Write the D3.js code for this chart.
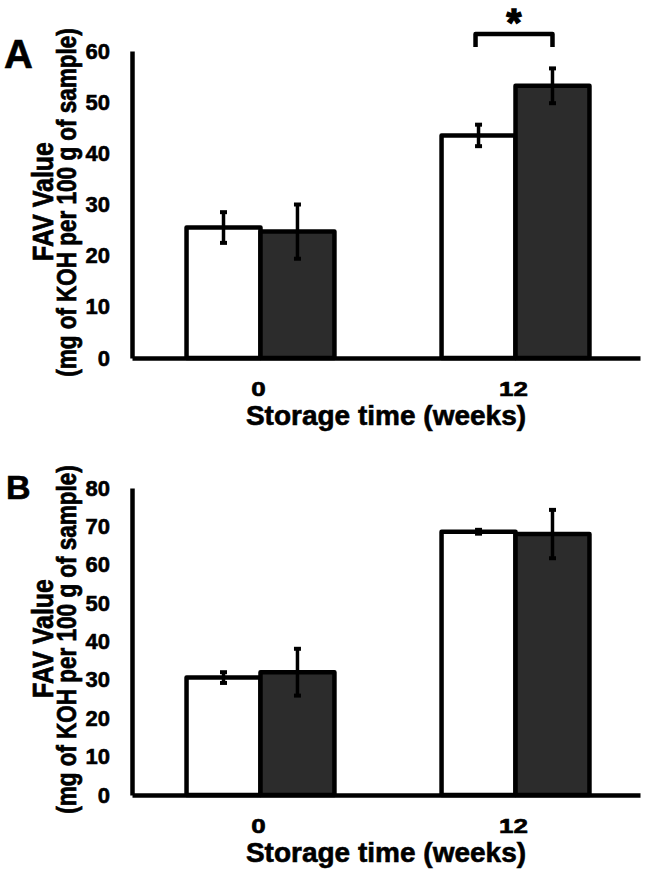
<!DOCTYPE html>
<html>
<head>
<meta charset="utf-8">
<script src="https://cdn.jsdelivr.net/npm/d3@7"></script>
<style>
  html, body { margin: 0; padding: 0; background: #fff; }
  svg { display: block; }
  text { font-family: "Liberation Sans", Arial, sans-serif; font-weight: bold; fill: #000; stroke: #000; stroke-width: 0.6px; }
</style>
</head>
<body>
<svg id="chart" width="645" height="874"></svg>
<script>
// ---- Data ----
const categories = ["0", "12"];
const seriesKeys = ["white", "dark"];

const panelA_white = [25.5, 43.5];
const panelA_dark = [24.7, 53.2];
const panelA_whiteErr = [3.0, 2.1];
const panelA_darkErr = [5.3, 3.4];

const panelB_white = [30.6, 68.6];
const panelB_dark = [32.0, 68.0];
const panelB_whiteErr = [1.4, 0.5];
const panelB_darkErr = [6.1, 6.3];

const yTicksA = [0, 10, 20, 30, 40, 50, 60];
const yTicksB = [0, 10, 20, 30, 40, 50, 60, 70, 80];

const panelLabels = ["A", "B"];
const xTitle = "Storage time (weeks)";
const yTitle = "FAV Value";
const ySubTitle = "(mg of KOH per 100 g of sample)";

// significance bracket (panel A, group "12"), in data units
const sigA = { group: "12", level: 63.3, legEnd: 60.8, label: "*" };

// ---- Drawing ----
const svg = d3.select("#chart");
const fills = { white: "#ffffff", dark: "#2c2c2c" };

function drawPanel(cfg) {
  const g = svg.append("g");
  const left = 132, right = 640;
  const x0 = d3.scaleBand().domain(categories).range([left, right])
    .paddingInner(0.42).paddingOuter(0.206);
  const x1 = d3.scaleBand().domain(seriesKeys).range([0, x0.bandwidth()]).padding(0);
  const y = d3.scaleLinear().domain([0, cfg.yMax]).range([cfg.bottom, cfg.top]);

  const rows = [];
  categories.forEach((c, i) => {
    rows.push({ cat: c, key: "white", v: cfg.white[i], e: cfg.whiteErr[i] });
    rows.push({ cat: c, key: "dark", v: cfg.dark[i], e: cfg.darkErr[i] });
  });

  // bars
  g.selectAll("rect.bar").data(rows).join("rect")
    .attr("class", "bar")
    .attr("x", d => x0(d.cat) + x1(d.key) + 2)
    .attr("width", x1.bandwidth())
    .attr("y", d => y(d.v))
    .attr("height", d => y(0) - y(d.v))
    .attr("fill", d => fills[d.key])
    .attr("stroke", "#000")
    .attr("stroke-width", 4.5)
    .attr("stroke-linejoin", "round");

  // error bars
  const cx = d => x0(d.cat) + x1(d.key) + 2 + x1.bandwidth() / 2;
  g.selectAll("line.err").data(rows).join("line")
    .attr("class", "err")
    .attr("x1", cx).attr("x2", cx)
    .attr("y1", d => y(d.v + d.e)).attr("y2", d => y(d.v - d.e))
    .attr("stroke", "#000").attr("stroke-width", 3.5);
  ["hi", "lo"].forEach(side => {
    g.selectAll("line.cap-" + side).data(rows).join("line")
      .attr("class", "cap-" + side)
      .attr("x1", d => cx(d) - 3.5).attr("x2", d => cx(d) + 3.5)
      .attr("y1", d => y(side === "hi" ? d.v + d.e : d.v - d.e))
      .attr("y2", d => y(side === "hi" ? d.v + d.e : d.v - d.e))
      .attr("stroke", "#000").attr("stroke-width", 4);
  });

  // y axis
  const yAxis = g.append("g")
    .attr("transform", `translate(${left},0)`)
    .call(d3.axisLeft(y).tickValues(cfg.yTicks).tickSize(0).tickSizeOuter(0).tickPadding(22));
  yAxis.select(".domain").attr("stroke", "#000").attr("stroke-width", 4.5);
  yAxis.selectAll("text").style("font-size", "22px").attr("font-family", null);

  // x axis
  const xAxis = g.append("g")
    .attr("transform", `translate(0,${cfg.bottom})`)
    .call(d3.axisBottom(x0).tickSize(0).tickSizeOuter(0).tickPadding(24));
  xAxis.select(".domain").attr("stroke", "#000").attr("stroke-width", 4.5);
  xAxis.selectAll("text").style("font-size", "20px").attr("font-family", null)
    .attr("transform", "scale(1.3,1)");

  // x title
  g.append("text")
    .attr("x", (left + right) / 2)
    .attr("y", cfg.bottom + 67)
    .attr("text-anchor", "middle")
    .style("font-size", "28px")
    .text(xTitle);

  // y titles
  const midY = (cfg.top + cfg.bottom) / 2;
  g.append("text")
    .attr("transform", `translate(53,${midY - 3}) scale(1.2,1) rotate(-90)`)
    .attr("text-anchor", "middle")
    .style("font-size", "25px")
    .text(yTitle);
  g.append("text")
    .attr("transform", `translate(76,${midY - 2}) scale(1.2,1) rotate(-90)`)
    .attr("text-anchor", "middle")
    .style("font-size", "22.5px")
    .text(ySubTitle);

  // panel letter
  g.append("text")
    .attr("x", cfg.letterX).attr("y", cfg.letterY)
    .style("font-size", cfg.letterSize + "px")
    .text(cfg.letter);

  // significance
  if (cfg.sig) {
    const s = cfg.sig;
    const xa = x0(s.group) + x1("white") + 2 + x1.bandwidth() / 2 - 3;
    const xb = x0(s.group) + x1("dark") + 2 + x1.bandwidth() / 2;
    g.append("path")
      .attr("d", `M${xa},${y(s.legEnd)}V${y(s.level)}H${xb}V${y(s.legEnd)}`)
      .attr("fill", "none").attr("stroke", "#000").attr("stroke-width", 4.5)
      .attr("stroke-linejoin", "round");
    g.append("text")
      .attr("x", (xa + xb) / 2).attr("y", y(s.level) + 2)
      .attr("text-anchor", "middle")
      .style("font-size", "38px")
      .style("stroke-width", "1.5px")
      .text(s.label);
  }
}

drawPanel({
  top: 51, bottom: 358, yMax: 60, yTicks: yTicksA,
  white: panelA_white, dark: panelA_dark, whiteErr: panelA_whiteErr, darkErr: panelA_darkErr,
  letter: panelLabels[0], letterX: 4, letterY: 68, letterSize: 40, sig: sigA
});
drawPanel({
  top: 488, bottom: 795, yMax: 80, yTicks: yTicksB,
  white: panelB_white, dark: panelB_dark, whiteErr: panelB_whiteErr, darkErr: panelB_darkErr,
  letter: panelLabels[1], letterX: 6, letterY: 499, letterSize: 34, sig: null
});
</script>
</body>
</html>
